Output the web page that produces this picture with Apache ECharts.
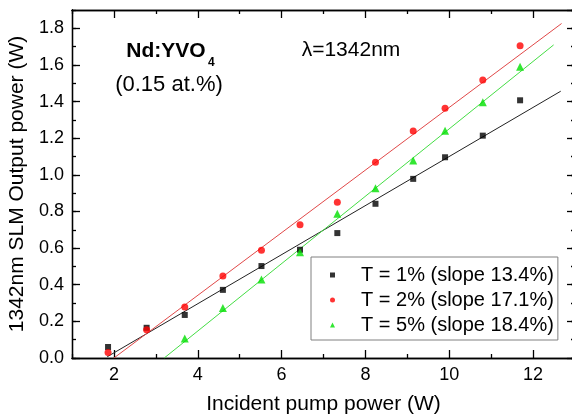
<!DOCTYPE html>
<html><head><meta charset="utf-8">
<script src="https://cdn.jsdelivr.net/npm/echarts@6/dist/echarts.min.js"></script>
<style>html,body{margin:0;padding:0;background:#fff}#c{width:572px;height:417px}</style>
</head><body><div id="c"></div>
<script>
// ---- data ----
const pumpPower = [1.86, 2.78, 3.69, 4.60, 5.52, 6.44, 7.33, 8.24, 9.14, 9.90, 10.80, 11.69];
const outT1 = [0.060, 0.165, 0.235, 0.372, 0.502, 0.591, 0.682, 0.842, 0.978, 1.096, 1.214, 1.407];
const outT2 = [0.030, 0.154, 0.279, 0.448, 0.588, 0.728, 0.851, 1.069, 1.240, 1.363, 1.518, 1.705];
const pumpPowerT5 = [3.69, 4.60, 5.52, 6.44, 7.33, 8.24, 9.14, 9.90, 10.80, 11.69];
const outT5 = [0.106, 0.273, 0.428, 0.577, 0.788, 0.927, 1.078, 1.241, 1.396, 1.590];
const seriesNames = ['T = 1% (slope 13.4%)', 'T = 2% (slope 17.1%)', 'T = 5% (slope 18.4%)'];
const fitSlope = [0.134, 0.171, 0.184];
const fitThreshold = [1.79, 2.0, 3.2];
const fitStart = [1.84, 2.0, 3.2];
const fitEnd = [12.66, 12.68, 12.49];
const xMajorTicks = [2, 4, 6, 8, 10, 12];
const xMinorTicks = [1, 3, 5, 7, 9, 11, 13];
const yTickLabels = ['0.0', '0.2', '0.4', '0.6', '0.8', '1.0', '1.2', '1.4', '1.6', '1.8'];

const FONT = '"Liberation Sans", Arial, Helvetica, sans-serif';
const markerColors = ['#000000', '#ff0000', '#00e000'];
const lineColors = ['#222222', '#e04848', '#44dd44'];
const symbols = ['rect', 'circle', 'triangle'];
const symbolSizes = [6, 7, 8];

const chart = echarts.init(document.getElementById('c'), null, {renderer: 'canvas'});
const zip = (xs, ys) => xs.map((x, i) => [x, ys[i]]);
const scatterData = [zip(pumpPower, outT1), zip(pumpPower, outT2), zip(pumpPowerT5, outT5)];

const axisLineStyle = {color: '#000', width: 1.3};
function xAx(pos, ticks, len, withLabel) {
  return {
    type: 'value', position: pos, min: 1, max: 13,
    splitLine: {show: false},
    axisLine: {show: true, onZero: false, lineStyle: axisLineStyle},
    axisTick: {show: true, inside: true, length: len, customValues: ticks, lineStyle: axisLineStyle},
    axisLabel: withLabel ? {show: true, customValues: xMajorTicks, fontSize: 18, color: '#000', margin: 8, fontFamily: FONT} : {show: false},
    name: withLabel ? 'Incident pump power (W)' : '',
    nameLocation: 'middle', nameGap: 36,
    nameTextStyle: {fontSize: 21, color: '#000', fontFamily: FONT}
  };
}
function yAx(pos, interval, len, withLabel) {
  return {
    type: 'value', position: pos, min: 0, max: 1.9, interval: interval,
    splitLine: {show: false},
    axisLine: {show: true, onZero: false, lineStyle: axisLineStyle},
    axisTick: {show: true, inside: true, length: len, lineStyle: axisLineStyle},
    axisLabel: withLabel ? {show: true, fontSize: 18, color: '#000', margin: 8, fontFamily: FONT,
      showMaxLabel: false,
      formatter: v => { const k = Math.round(v / 0.2); return (Math.abs(v - k * 0.2) < 1e-6 && k < yTickLabels.length) ? yTickLabels[k] : ''; }} : {show: false},
    name: withLabel ? '1342nm SLM Output power (W)' : '',
    nameLocation: 'middle', nameGap: 40,
    nameTextStyle: {fontSize: 21, color: '#000', fontFamily: FONT}
  };
}

const series = [];
for (let i = 0; i < 3; i++) {
  series.push({
    name: 'fit' + i, type: 'line', silent: true, symbol: 'none', z: 2,
    xAxisIndex: 0, yAxisIndex: 0,
    lineStyle: {color: lineColors[i], width: 1},
    data: [[fitStart[i], fitSlope[i] * (fitStart[i] - fitThreshold[i])],
           [fitEnd[i], fitSlope[i] * (fitEnd[i] - fitThreshold[i])]]
  });
}
for (let i = 0; i < 3; i++) {
  series.push({
    name: seriesNames[i], type: 'scatter', z: 5,
    xAxisIndex: 0, yAxisIndex: 0,
    symbol: symbols[i], symbolSize: symbolSizes[i],
    itemStyle: {color: markerColors[i]},
    data: scatterData[i]
  });
}

chart.setOption({
  animation: false,
  backgroundColor: '#fff',
  grid: {left: 72, top: 10, right: -3, bottom: 59, containLabel: false, outerBoundsMode: 'none'},
  xAxis: [
    xAx('bottom', xMajorTicks, 8, true),
    xAx('bottom', xMinorTicks, 4, false),
    xAx('top', xMajorTicks, 8, false),
    xAx('top', xMinorTicks, 4, false)
  ],
  yAxis: [
    yAx('left', 0.2, 8, true),
    yAx('left', 0.1, 4, false),
    yAx('right', 0.2, 8, false),
    yAx('right', 0.1, 4, false)
  ],
  legend: {
    data: seriesNames, orient: 'vertical', left: 311, top: 257,
    backgroundColor: '#fff', borderColor: '#808080', borderWidth: 1,
    padding: [6, 4, 3, 19], itemWidth: 5, itemHeight: 5, itemGap: 1,
    textStyle: {fontSize: 20, lineHeight: 24, color: '#000', fontFamily: FONT, padding: [0, 0, 0, 21]}
  },
  graphic: [
    {type: 'text', x: 166, y: 51, style: {text: 'Nd:YVO', font: 'bold 21px ' + FONT, fill: '#000', textAlign: 'center', textVerticalAlign: 'middle'}},
    {type: 'text', x: 208, y: 63, style: {text: '4', font: 'bold 12px ' + FONT, fill: '#000', textAlign: 'left', textVerticalAlign: 'middle'}},
    {type: 'text', x: 169, y: 85, style: {text: '(0.15 at.%)', font: '22px ' + FONT, fill: '#000', textAlign: 'center', textVerticalAlign: 'middle'}},
    {type: 'text', x: 351, y: 50, style: {text: 'λ=1342nm', font: '21px ' + FONT, fill: '#000', textAlign: 'center', textVerticalAlign: 'middle'}}
  ],
  series: series
});
</script>
</body></html>
